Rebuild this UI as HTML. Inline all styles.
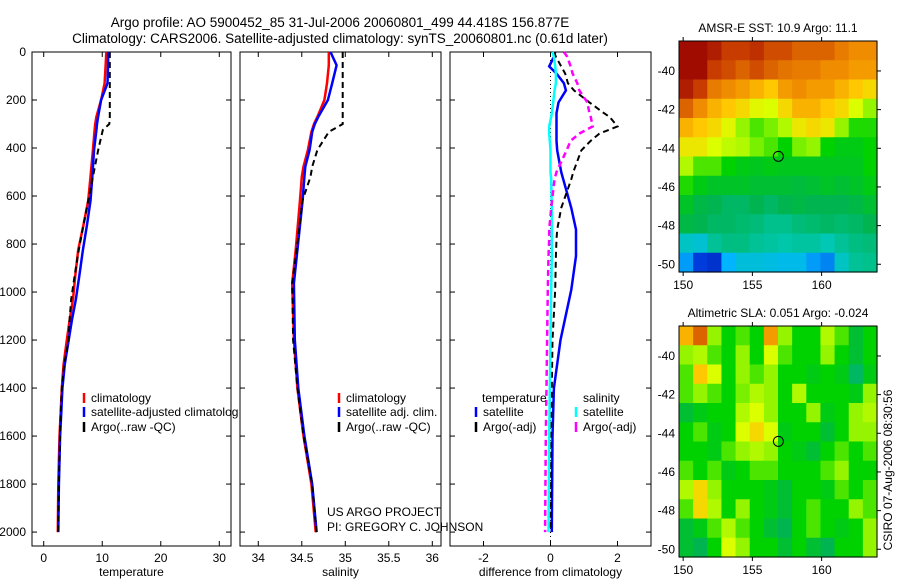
<!DOCTYPE html>
<html><head><meta charset="utf-8"><style>
html,body{margin:0;padding:0;background:#fff}
svg{display:block;font-family:"Liberation Sans",sans-serif}
</style></head><body>
<svg id="s" width="900" height="580" viewBox="0 0 900 580" xmlns="http://www.w3.org/2000/svg">
<text x="340" y="27" font-size="13.5" text-anchor="middle">Argo profile: AO 5900452_85 31-Jul-2006 20060801_499 44.418S 156.877E</text>
<text x="340" y="43" font-size="13.5" text-anchor="middle">Climatology: CARS2006. Satellite-adjusted climatology: synTS_20060801.nc (0.61d later)</text>
<text x="327" y="516" font-size="12">US ARGO PROJECT</text>
<text x="327" y="531" font-size="12">PI: GREGORY C. JOHNSON</text>
<text x="0" y="0" font-size="12" text-anchor="middle" transform="translate(892,470) rotate(-90)">CSIRO 07-Aug-2006 08:30:56</text>
<defs><clipPath id="c1"><rect x="32" y="52" width="206" height="494"/></clipPath></defs>
</svg>
<script>
// ---------- profile data ----------
const tDepth=[0,50,130,200,270,300,325,410,520,620,720,825,930,1030,1120,1210,1300,1400,1500,1600,1800,2000];
const tClim=[10.7,10.6,10.4,9.8,9.0,8.8,8.7,8.4,8.0,7.6,6.8,5.9,5.4,5.0,4.4,3.9,3.4,3.1,2.9,2.7,2.5,2.4];
const tSat=[11.0,11.0,10.9,9.8,9.3,9.1,9.0,8.6,8.3,8.0,7.4,6.7,6.1,5.5,4.8,4.2,3.6,3.2,3.0,2.8,2.6,2.5];
const tArgo=[11.3,11.3,11.3,11.3,11.3,11.2,10.1,9.3,8.4,7.6,6.8,6.0,5.3,4.7,4.4,4.2,3.5,3.1,2.9,2.8,2.6,2.5];
const sDepth=[0,55,130,200,270,300,333,408,478,520,617,825,963,1200,1400,1600,1800,2000];
const sClim=[34.81,34.81,34.79,34.76,34.68,34.64,34.61,34.57,34.52,34.50,34.48,34.43,34.39,34.41,34.45,34.52,34.61,34.66];
const sSat=[34.83,34.90,34.85,34.80,34.69,34.65,34.62,34.59,34.54,34.53,34.51,34.45,34.41,34.42,34.46,34.53,34.62,34.67];
const sArgo=[34.97,34.97,34.97,34.97,34.97,34.97,34.81,34.68,34.62,34.60,34.51,34.44,34.39,34.40,34.45,34.52,34.62,34.67];
const dDepth=[0,20,60,90,130,160,210,255,270,310,340,370,410,500,530,650,740,780,850,990,1200,1400,1600,2000];
const dTempSat=[0.14,0.10,-0.04,0.18,0.40,0.46,0.24,0.18,0.18,0.18,0.18,0.18,0.20,0.32,0.38,0.62,0.76,0.76,0.76,0.62,0.30,0.10,0.06,0.04];
const dTempArgo=[0.10,0.16,0.32,0.44,0.52,0.70,1.16,1.60,1.76,2.00,1.46,1.20,0.92,0.68,0.62,0.32,0.20,0.18,0.16,0.14,0.06,0.04,0.02,0.0];
const dSalSat=[0.06,0.10,0.14,0.16,0.16,0.12,0.08,0.04,0.02,-0.04,-0.04,-0.02,0.0,0.0,0.02,0.04,0.04,0.04,0.04,0.02,0.0,-0.02,-0.04,-0.06];
const dSalArgo=[0.40,0.50,0.60,0.66,0.80,0.86,1.10,1.16,1.20,1.26,0.86,0.60,0.48,0.18,0.12,0.02,-0.04,-0.04,-0.06,-0.08,-0.10,-0.12,-0.14,-0.16];
const depthTicks=[0,200,400,600,800,1000,1200,1400,1600,1800,2000];
const tTicks=[0,10,20,30];
const sTicks=[34,34.5,35,35.5,36];
const sTickLabels=["34","34.5","35","35.5","36"];
const dTicks=[-2,0,2];
// ---------- map data (colormap fraction 0..1) ----------
const sstGrid=[
[.98,.98,.95,.9,.9,.92,.88,.88,.85,.85,.85,.82,.8,.8],
[.98,.98,.9,.88,.85,.88,.85,.83,.82,.82,.8,.8,.78,.78],
[.95,.9,.82,.8,.78,.75,.72,.78,.8,.78,.78,.75,.72,.7],
[.85,.8,.75,.72,.7,.66,.65,.7,.75,.75,.72,.7,.65,.6],
[.75,.72,.7,.66,.6,.55,.58,.62,.68,.7,.68,.6,.52,.52],
[.68,.68,.65,.63,.62,.58,.55,.5,.58,.6,.5,.48,.48,.5],
[.62,.55,.55,.5,.48,.47,.48,.47,.47,.47,.47,.47,.47,.5],
[.52,.48,.46,.46,.46,.45,.45,.45,.44,.45,.46,.45,.46,.48],
[.46,.43,.42,.4,.4,.42,.4,.42,.43,.42,.42,.42,.43,.45],
[.43,.42,.4,.4,.39,.38,.36,.36,.38,.39,.4,.39,.4,.42],
[.3,.28,.35,.37,.37,.35,.34,.33,.34,.34,.32,.35,.37,.38],
[.2,.12,.1,.22,.27,.27,.26,.25,.25,.2,.18,.3,.35,.36]];
const slaGrid=[
[.75,.85,.6,.5,.55,.5,.78,.6,.5,.5,.62,.55,.45,.5],
[.6,.62,.55,.5,.6,.5,.65,.55,.5,.5,.6,.5,.45,.5],
[.55,.72,.65,.5,.6,.55,.6,.5,.5,.48,.5,.48,.4,.48],
[.55,.6,.55,.5,.58,.62,.6,.5,.62,.5,.5,.5,.48,.6],
[.45,.48,.5,.5,.62,.65,.6,.5,.5,.6,.48,.5,.6,.62],
[.5,.55,.48,.5,.65,.7,.65,.48,.5,.5,.45,.5,.6,.6],
[.5,.5,.48,.55,.6,.62,.6,.5,.48,.45,.5,.55,.5,.55],
[.55,.5,.55,.48,.5,.55,.55,.5,.5,.5,.55,.6,.5,.5],
[.62,.7,.6,.5,.5,.5,.48,.45,.5,.5,.48,.55,.5,.55],
[.55,.7,.62,.5,.6,.5,.48,.45,.5,.55,.5,.5,.6,.55],
[.45,.48,.55,.62,.55,.5,.45,.42,.5,.55,.5,.48,.5,.6],
[.45,.42,.5,.65,.6,.5,.5,.45,.5,.45,.42,.5,.5,.6]];
const lonTicks=[150,155,160];
const latTicks=[40,42,44,46,48,50];
const floatLon=156.877, floatLat=44.418;

const NS="http://www.w3.org/2000/svg";
const svg=document.getElementById('s');
function mk(tag,attrs,parent){const e=document.createElementNS(NS,tag);for(const k in attrs)e.setAttribute(k,attrs[k]);(parent||svg).appendChild(e);return e;}
const Y0=52,Y1=546, yScale=d=>Y0+(d/2058)*(Y1-Y0);

function panel(name,x0,x1,dmin,dmax,ticks,labels,xlabel,showY){
  const xs=v=>x0+(v-dmin)/(dmax-dmin)*(x1-x0);
  const g=mk('g',{});
  
  
  const fr=mk('rect',{x:x0,y:Y0,width:x1-x0,height:Y1-Y0,fill:'none',stroke:'#000','stroke-width':1},g);
  
  
  depthTicks.forEach(d=>{
    const y=yScale(d);
    mk('line',{x1:x0,x2:x0+5,y1:y,y2:y,stroke:'#000'},g);
    mk('line',{x1:x1-5,x2:x1,y1:y,y2:y,stroke:'#000'},g);
    if(showY){const t=mk('text',{x:x0-6,y:y+4,'font-size':12,'text-anchor':'end'},g);t.textContent=d;
      
      }
  });
  ticks.forEach((v,i)=>{
    const x=xs(v);
    mk('line',{x1:x,x2:x,y1:Y0,y2:Y0+5,stroke:'#000'},g);
    mk('line',{x1:x,x2:x,y1:Y1-5,y2:Y1,stroke:'#000'},g);
    const t=mk('text',{x:x,y:Y1+16,'font-size':12,'text-anchor':'middle'},g);t.textContent=labels[i];
    
    
  });
  const xl=mk('text',{x:(x0+x1)/2,y:Y1+30,'font-size':12,'text-anchor':'middle'},g);xl.textContent=xlabel;
  
  
  return {g,xs};
}
function line(p,depths,vals,color,dash,name,w){
  const d=depths.map((z,i)=>(i?'L':'M')+p.xs(vals[i]).toFixed(1)+','+yScale(z).toFixed(1)).join('');
  const a={d:d,fill:'none',stroke:color,'stroke-width':w||2.5};
  if(dash)a['stroke-dasharray']=dash;
  const e=mk('path',a,p.g);
  
  
}
function legend(g,x,y,color,label){
  const m=mk('line',{x1:x,x2:x,y1:y-9,y2:y+1,stroke:color,'stroke-width':2.5},g);
  
  
  const t=mk('text',{x:x+7,y:y,'font-size':12},g);t.textContent=label;
  
  
}

const p1=panel('temperature-panel',32,231,-2,32,tTicks,tTicks.map(String),'temperature',true);
line(p1,tDepth,tClim,'#f00',null,'temp-climatology-line');
line(p1,tDepth,tSat,'#00f',null,'temp-satellite-line');
line(p1,tDepth,tArgo,'#000','6,4','temp-argo-line',2);
const lg1=mk('g',{'clip-path':'url(#c1)'},p1.g);
legend(lg1,84,402,'#f00','climatology');
legend(lg1,84,416,'#00f','satellite-adjusted climatology');
legend(lg1,84,431,'#000','Argo(..raw -QC)');

const p2=panel('salinity-panel',240,441,33.79,36.1,sTicks,sTickLabels,'salinity',false);
line(p2,sDepth,sClim,'#f00',null,'sal-climatology-line');
line(p2,sDepth,sSat,'#00f',null,'sal-satellite-line');
line(p2,sDepth,sArgo,'#000','6,4','sal-argo-line',2);
legend(p2.g,339,402,'#f00','climatology');
legend(p2.g,339,416,'#00f','satellite adj. clim.');
legend(p2.g,339,431,'#000','Argo(..raw -QC)');

const p3=panel('difference-panel',450,651,-3,3,dTicks,dTicks.map(String),'difference from climatology',false);
const z=mk('line',{x1:p3.xs(0),x2:p3.xs(0),y1:Y0,y2:Y1,stroke:'#000','stroke-dasharray':'1,3'},p3.g);


line(p3,dDepth,dTempSat,'#00f',null,'diff-temp-satellite-line');
line(p3,dDepth,dTempArgo,'#000','6,4','diff-temp-argo-line',2);
line(p3,dDepth,dSalSat,'#0ff',null,'diff-sal-satellite-line');
line(p3,dDepth,dSalArgo,'#f0f','6,4','diff-sal-argo-line',2.5);
const th=mk('text',{x:482,y:402,'font-size':12},p3.g);th.textContent='temperature';


const sh=mk('text',{x:583,y:402,'font-size':12},p3.g);sh.textContent='salinity';


legend(p3.g,476,416,'#00f','satellite');
legend(p3.g,476,431,'#000','Argo(-adj)');
legend(p3.g,576,416,'#0ff','satellite');
legend(p3.g,576,431,'#f0f','Argo(-adj)');

// ---------- maps ----------
const cmapStops=[[0,0,0,130],[0.12,0,60,220],[0.22,0,180,255],[0.32,0,200,180],[0.42,0,180,80],[0.5,0,210,0],[0.58,120,240,0],[0.65,220,255,0],[0.72,255,200,0],[0.8,240,140,0],[0.9,200,60,0],[1.0,150,0,0]];
function cmap(v){
  v=Math.max(0,Math.min(1,v));
  for(let i=1;i<cmapStops.length;i++){
    const a=cmapStops[i-1],b=cmapStops[i];
    if(v<=b[0]){const t=(v-a[0])/(b[0]-a[0]);
      return `rgb(${Math.round(a[1]+t*(b[1]-a[1]))},${Math.round(a[2]+t*(b[2]-a[2]))},${Math.round(a[3]+t*(b[3]-a[3]))})`;}
  }
  return 'rgb(150,0,0)';
}
function map(name,grid,top,title){
  const L=679,R=877,T=top,B=top+231;
  const lon0=149.7,lon1=164.0,lat0=38.45,lat1=50.4;
  const xs=v=>L+(v-lon0)/(lon1-lon0)*(R-L);
  const ys=v=>T+(v-lat0)/(lat1-lat0)*(B-T);
  const g=mk('g',{});
  
  
  const rows=grid.length,cols=grid[0].length;
  const cw=(R-L)/cols,ch=(B-T)/rows;
  grid.forEach((row,i)=>row.forEach((v,j)=>{
    const c=mk('rect',{x:(L+j*cw).toFixed(2),y:(T+i*ch).toFixed(2),width:(cw+0.6).toFixed(2),height:(ch+0.6).toFixed(2),fill:cmap(v)},g);
    
    
  }));
  const fr=mk('rect',{x:L,y:T,width:R-L,height:B-T,fill:'none',stroke:'#000'},g);
  
  
  latTicks.forEach(v=>{const y=ys(v);
    mk('line',{x1:R,x2:R+4,y1:y,y2:y,stroke:'#000'},g);
    const t=mk('text',{x:L-4,y:y+4,'font-size':12,'text-anchor':'end'},g);t.textContent='-'+v;
    
    });
  lonTicks.forEach(v=>{const x=xs(v);
    mk('line',{x1:x,x2:x,y1:T-4,y2:T,stroke:'#000'},g);
    mk('line',{x1:x,x2:x,y1:B,y2:B+4,stroke:'#000'},g);
    const t=mk('text',{x:x,y:B+17,'font-size':12,'text-anchor':'middle'},g);t.textContent=v;
    
    });
  const c=mk('circle',{cx:xs(floatLon),cy:ys(floatLat),r:5,fill:'none',stroke:'#000'},g);
  
  
  const tt=mk('text',{x:(L+R)/2,y:T-9,'font-size':12,'text-anchor':'middle'},g);tt.textContent=title;
  
  
}
map('sst-map',sstGrid,41,'AMSR-E SST: 10.9 Argo: 11.1');
map('sla-map',slaGrid,326,'Altimetric SLA: 0.051 Argo: -0.024');
</script>
</body></html>
